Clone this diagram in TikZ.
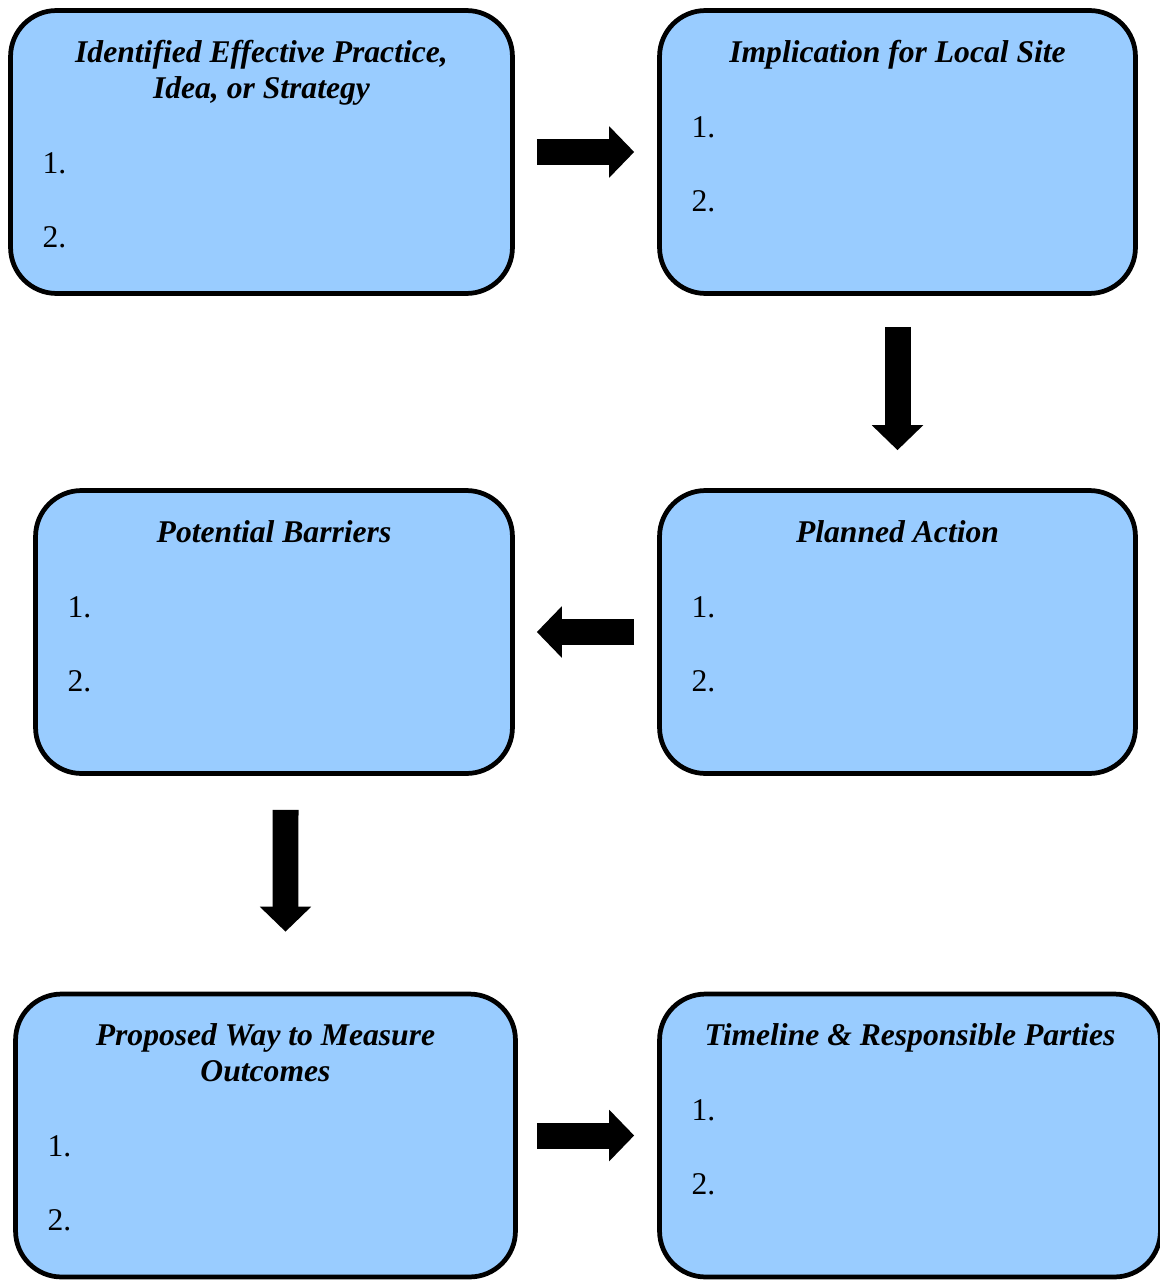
\documentclass[tikz,border=0pt]{standalone}
\usepackage{fontspec}
\setmainfont{Liberation Serif}
\usetikzlibrary{arrows.meta}

\definecolor{boxblue}{HTML}{99CCFF}

\tikzset{
	stepbox/.style={draw=black, fill=boxblue, line width=2.7pt, rounded corners=0.92cm, inner sep=0pt, minimum height=5.66cm},
	title/.style={anchor=north, align=center, inner sep=0pt, font=\fontsize{18}{20.4}\selectfont\bfseries\itshape},
	num/.style={anchor=base west, inner sep=0pt, font=\fontsize{18}{20.4}\selectfont},
	bigarrow/.style={line width=5.2mm, -{Triangle[length=5mm, width=10mm]}}
}

\begin{document}
\begin{tikzpicture}[x=0.02cm, y=-0.02cm]
			\useasboundingbox (0,0) rectangle (1159,1280);

			% Boxes
			\node[stepbox, minimum width=10.04cm] (practice) at (261.5,152) {};
			\node[stepbox, minimum width=9.52cm] (implication) at (897.5,152) {};
			\node[stepbox, minimum width=9.54cm] (barriers) at (274,632) {};
			\node[stepbox, minimum width=9.52cm] (action) at (897.5,632) {};
			\node[stepbox, minimum width=10cm] (measure) at (265.5,1135.5) {};
			\node[stepbox, minimum width=10.02cm] (timeline) at (910,1135.5) {};

			% Titles
			\node[title] (practice title) at ([yshift=-0.64cm]practice.north) {Identified Effective Practice,\\Idea, or Strategy};
			\node[title] (implication title) at ([yshift=-0.64cm]implication.north) {Implication for Local Site};
			\node[title] (barriers title) at ([yshift=-0.64cm]barriers.north) {Potential Barriers};
			\node[title] (action title) at ([yshift=-0.64cm]action.north) {Planned Action};
			\node[title] (measure title) at ([yshift=-0.64cm]measure.north) {Proposed Way to Measure\\Outcomes};
			\node[title] (timeline title) at ([yshift=-0.64cm]timeline.north) {Timeline \& Responsible Parties};

			% Numbered lines
			\node[num] (practice one) at ([xshift=0.68cm, yshift=-3.3cm]practice.north west) {1.};
			\node[num] (practice two) at ([xshift=0.68cm, yshift=-4.78cm]practice.north west) {2.};
			\node[num] (implication one) at ([xshift=0.68cm, yshift=-2.58cm]implication.north west) {1.};
			\node[num] (implication two) at ([xshift=0.68cm, yshift=-4.06cm]implication.north west) {2.};
			\node[num] (barriers one) at ([xshift=0.68cm, yshift=-2.58cm]barriers.north west) {1.};
			\node[num] (barriers two) at ([xshift=0.68cm, yshift=-4.06cm]barriers.north west) {2.};
			\node[num] (action one) at ([xshift=0.68cm, yshift=-2.58cm]action.north west) {1.};
			\node[num] (action two) at ([xshift=0.68cm, yshift=-4.06cm]action.north west) {2.};
			\node[num] (measure one) at ([xshift=0.68cm, yshift=-3.3cm]measure.north west) {1.};
			\node[num] (measure two) at ([xshift=0.68cm, yshift=-4.78cm]measure.north west) {2.};
			\node[num] (timeline one) at ([xshift=0.68cm, yshift=-2.58cm]timeline.north west) {1.};
			\node[num] (timeline two) at ([xshift=0.68cm, yshift=-4.06cm]timeline.north west) {2.};

			% Block arrows
			\draw[bigarrow] ([xshift=0.44cm]practice.east) -- ([xshift=-0.46cm]implication.west);
			\draw[bigarrow] ([yshift=-0.62cm]implication.south) -- ([yshift=0.76cm]action.north);
			\draw[bigarrow] ([xshift=-0.46cm]action.west) -- ([xshift=0.44cm]barriers.east);
			\draw[bigarrow] ([xshift=0.23cm, yshift=-0.68cm]barriers.south) -- ([xshift=0.4cm, yshift=1.2cm]measure.north);
			\draw[bigarrow] ([xshift=0.38cm]measure.east) -- ([xshift=-0.46cm]timeline.west);
		\end{tikzpicture}
\end{document}
